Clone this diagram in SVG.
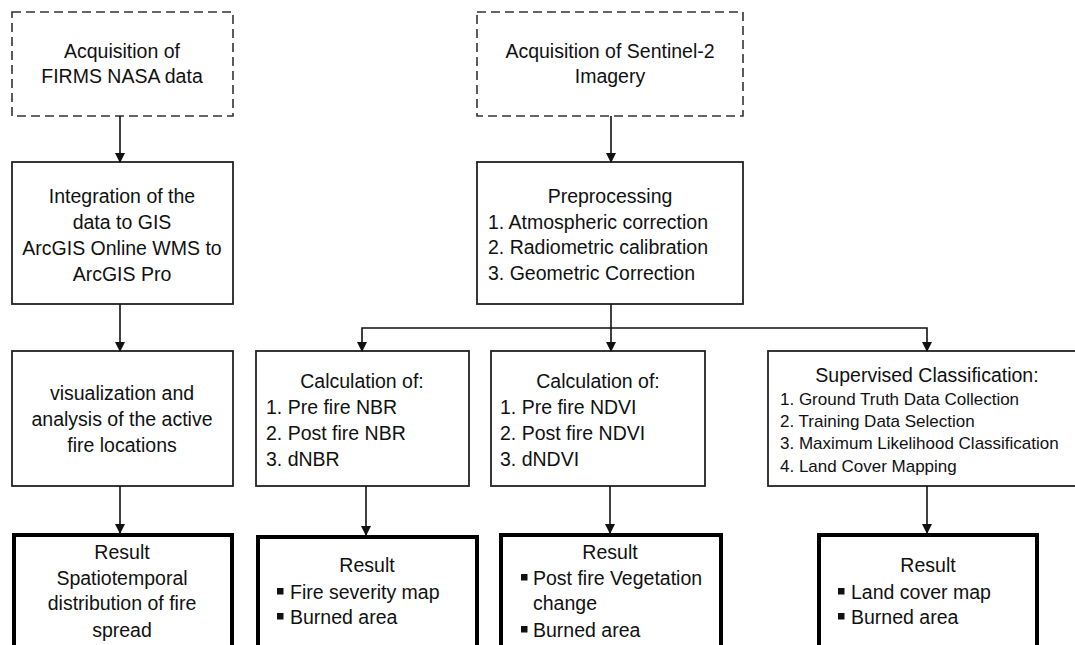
<svg xmlns="http://www.w3.org/2000/svg" width="1075" height="645" viewBox="0 0 1075 645">
<defs>
<marker id="ah" markerWidth="10" markerHeight="10" refX="9" refY="5" orient="auto" markerUnits="userSpaceOnUse">
<path d="M0,0 L10,5 L0,10 Z" fill="#111"/>
</marker>
</defs>
<style>
.box{fill:#fff;stroke:#222;stroke-width:1.8}
.dash{fill:#fff;stroke:#333;stroke-width:1.6;stroke-dasharray:9 5}
.res{fill:#fff;stroke:#000;stroke-width:4}
.t{font-family:"Liberation Sans",Arial,sans-serif;font-size:19.5px;fill:#111}
.c{text-anchor:middle}
.s{font-size:17px}
.conn{fill:none;stroke:#111;stroke-width:1.6}
.bul{fill:#111}
</style>
<rect width="1075" height="645" fill="#fff"/>

<g id="n1">
<rect class="dash" x="12" y="12" width="221" height="104"/>
<text class="t c" x="122" y="58">Acquisition of</text>
<text class="t c" x="122" y="83">FIRMS NASA data</text>
</g>
<g id="n2">
<rect class="dash" x="477" y="12" width="266" height="104"/>
<text class="t c" x="610" y="58">Acquisition of Sentinel-2</text>
<text class="t c" x="610" y="83">Imagery</text>
</g>
<g id="n3">
<rect class="box" x="12" y="162" width="221" height="142"/>
<text class="t c" x="122" y="203">Integration of the</text>
<text class="t c" x="122" y="229">data to GIS</text>
<text class="t c" x="122" y="255">ArcGIS Online WMS to</text>
<text class="t c" x="122" y="281">ArcGIS Pro</text>
</g>
<g id="n4">
<rect class="box" x="477" y="162" width="266" height="142"/>
<text class="t c" x="610" y="203">Preprocessing</text>
<text class="t" x="488" y="229">1. Atmospheric correction</text>
<text class="t" x="488" y="254">2. Radiometric calibration</text>
<text class="t" x="488" y="280">3. Geometric Correction</text>
</g>
<g id="n5">
<rect class="box" x="12" y="351" width="221" height="135"/>
<text class="t c" x="122" y="400">visualization and</text>
<text class="t c" x="122" y="426">analysis of the active</text>
<text class="t c" x="122" y="452">fire locations</text>
</g>
<g id="n6">
<rect class="box" x="256" y="351" width="213" height="135"/>
<text class="t c" x="362" y="388">Calculation of:</text>
<text class="t" x="266" y="414">1. Pre fire NBR</text>
<text class="t" x="266" y="440">2. Post fire NBR</text>
<text class="t" x="266" y="466">3. dNBR</text>
</g>
<g id="n7">
<rect class="box" x="491" y="351" width="214" height="135"/>
<text class="t c" x="598" y="388">Calculation of:</text>
<text class="t" x="500" y="414">1. Pre fire NDVI</text>
<text class="t" x="500" y="440">2. Post fire NDVI</text>
<text class="t" x="500" y="466">3. dNDVI</text>
</g>
<g id="n8">
<rect class="box" x="768" y="351" width="320" height="135"/>
<text class="t c" x="927" y="382">Supervised Classification:</text>
<text class="t s" x="780" y="405">1. Ground Truth Data Collection</text>
<text class="t s" x="780" y="427">2. Training Data Selection</text>
<text class="t s" x="780" y="449">3. Maximum Likelihood Classification</text>
<text class="t s" x="780" y="472">4. Land Cover Mapping</text>
</g>
<g id="n9">
<rect class="res" x="14" y="535" width="218" height="130"/>
<text class="t c" x="122" y="559">Result</text>
<text class="t c" x="122" y="585">Spatiotemporal</text>
<text class="t c" x="122" y="610">distribution of fire</text>
<text class="t c" x="122" y="637">spread</text>
</g>
<g id="n10">
<rect class="res" x="258" y="537" width="219" height="130"/>
<text class="t c" x="367" y="572">Result</text>
<rect class="bul" x="277" y="588" width="6.5" height="6.5"/>
<text class="t" x="290" y="599">Fire severity map</text>
<rect class="bul" x="277" y="613" width="6.5" height="6.5"/>
<text class="t" x="290" y="624">Burned area</text>
</g>
<g id="n11">
<rect class="res" x="501" y="535" width="220" height="130"/>
<text class="t c" x="610" y="559">Result</text>
<rect class="bul" x="521" y="574" width="6.5" height="6.5"/>
<text class="t" x="533" y="585">Post fire Vegetation</text>
<text class="t" x="533" y="610">change</text>
<rect class="bul" x="521" y="626" width="6.5" height="6.5"/>
<text class="t" x="533" y="637">Burned area</text>
</g>
<g id="n12">
<rect class="res" x="819" y="535" width="218" height="130"/>
<text class="t c" x="928" y="572">Result</text>
<rect class="bul" x="838" y="588" width="6.5" height="6.5"/>
<text class="t" x="851" y="599">Land cover map</text>
<rect class="bul" x="838" y="613" width="6.5" height="6.5"/>
<text class="t" x="851" y="624">Burned area</text>
</g>

<g id="connectors">
<line class="conn" x1="120" y1="116" x2="120" y2="162" marker-end="url(#ah)"/>
<line class="conn" x1="120" y1="304" x2="120" y2="351" marker-end="url(#ah)"/>
<line class="conn" x1="120" y1="486" x2="120" y2="533" marker-end="url(#ah)"/>
<line class="conn" x1="611" y1="116" x2="611" y2="162" marker-end="url(#ah)"/>
<line class="conn" x1="611" y1="304" x2="611" y2="351" marker-end="url(#ah)"/>
<polyline class="conn" points="611,328 362,328 362,351" marker-end="url(#ah)"/>
<polyline class="conn" points="611,328 927,328 927,351" marker-end="url(#ah)"/>
<line class="conn" x1="366" y1="486" x2="366" y2="535" marker-end="url(#ah)"/>
<line class="conn" x1="610" y1="486" x2="610" y2="533" marker-end="url(#ah)"/>
<line class="conn" x1="927" y1="486" x2="927" y2="533" marker-end="url(#ah)"/>
</g>
</svg>
